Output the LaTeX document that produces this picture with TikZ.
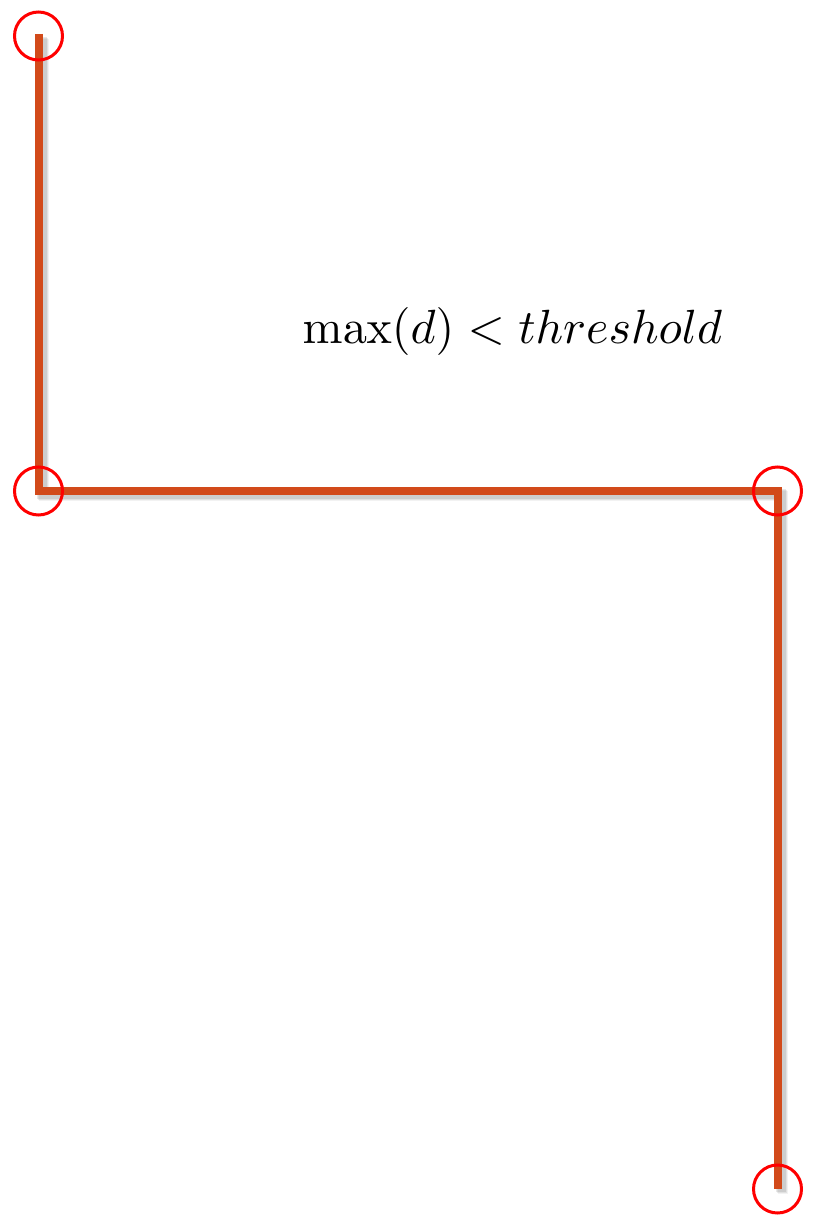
\documentclass[tikz,border=0pt]{standalone}
\usepackage{graphicx}
\usetikzlibrary{positioning}
\definecolor{routered}{RGB}{210,74,26}
\begin{document}
\begin{tikzpicture}[x=1pt, y=-1pt,
  route/.style={line width=8pt, routered, line join=miter},
  routeshadow/.style={line width=10pt, black, line join=miter},
  ring/.style={circle, draw=red, line width=3pt, minimum size=48pt, inner sep=0pt}]
\useasboundingbox (0,0) rectangle (818,1225);
% corner points of the route
\coordinate (start) at (38.5,34);
\coordinate (turnA) at (38.5,490.5);
\coordinate (turnB) at (777.5,490.5);
\coordinate (stop) at (777.5,1189);
% soft shadow under the route
\foreach \d/\o in {5/0.05,4/0.07,3/0.09} {
  \draw[routeshadow, opacity=\o] ([shift={(\d,\d)}]start) -- ([shift={(\d,\d)}]turnA)
    -- ([shift={(\d,\d)}]turnB) -- ([shift={(\d,\d)}]stop);
}
% the route itself
\draw[route] (start) -- (turnA) -- (turnB) -- (stop);
% rings at the end points and corners
\node[ring] (ringStart) at (38.5,36) {};
\node[ring] (ringA) at (38.5,491) {};
\node[ring] (ringB) at (777.5,491) {};
\node[ring] (ringStop) at (777.5,1189) {};
% condition label
\node[anchor=base, inner sep=0pt] (cond) at (512.5,343)
  {\scalebox{4.8}{$\max(d) < threshold$}};
\end{tikzpicture}
\end{document}
